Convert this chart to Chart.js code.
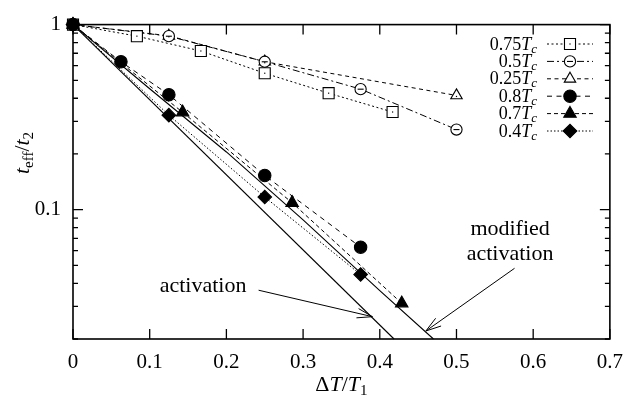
<!DOCTYPE html>
<html>
<head>
<meta charset="utf-8">
<script src="https://cdn.jsdelivr.net/npm/chart.js@4.4.1/dist/chart.umd.min.js"></script>
<style>
  html, body { margin: 0; padding: 0; background: #fff; }
  #wrap { width: 634px; height: 399px; }
</style>
</head>
<body>
<div id="wrap"><canvas id="chart" width="634" height="399"></canvas></div>
<script>
// values (x = dT/T1, y = t_eff/t2)
const x075 = [0, 0.0833, 0.1667, 0.25, 0.3333, 0.4167];
const y075 = [1, 0.866, 0.72, 0.546, 0.426, 0.337];
const x05 = [0, 0.125, 0.25, 0.375, 0.5];
const y05 = [1, 0.866, 0.63, 0.448, 0.271];
const x025 = [0, 0.125, 0.25, 0.5];
const y025 = [1, 0.87, 0.63, 0.414];
const x08 = [0, 0.0625, 0.125, 0.25, 0.375];
const y08 = [1, 0.63, 0.418, 0.153, 0.0627];
const x07 = [0, 0.1429, 0.2857, 0.4286];
const y07 = [1, 0.336, 0.109, 0.0312];
const x04 = [0, 0.125, 0.25, 0.375];
const y04 = [1, 0.324, 0.117, 0.0446];
// the two theory curves
const xAct = [0, 0.4186];
const yAct = [1, 0.02];
const xMod = [0, 0.1, 0.2, 0.3, 0.4, 0.47];
const yMod = [1, 0.45, 0.205, 0.088, 0.0365, 0.02];

const seriesLabels = ["0.75", "0.5", "0.25", "0.8", "0.7", "0.4"];
const xTicks = [0, 0.1, 0.2, 0.3, 0.4, 0.5, 0.6, 0.7];
const yMajor = [1, 0.1];
const yMinor = [0.02, 0.03, 0.04, 0.05, 0.06, 0.07, 0.08, 0.09, 0.2, 0.3, 0.4, 0.5, 0.6, 0.7, 0.8, 0.9];

// annotations, in data units
const notes = [
  { text: "activation", x: 0.1696, y: 0.0361 },
  { text: "modified", x: 0.5699, y: 0.0725 },
  { text: "activation", x: 0.5699, y: 0.0536 }
];
const arrows = [
  { from: [0.242, 0.0367], to: [0.3904, 0.0264] },
  { from: [0.5757, 0.0482], to: [0.4601, 0.0221] }
];

const FONT = '"Liberation Serif", "Times New Roman", serif';

// marker look per series: [pointStyle, radius, filled]
const marks = [
  ["rect", 7.8, false],
  ["circle", 5.6, false],
  ["triangle", 6.6, false],
  ["circle", 6.2, true],
  ["triangle", 7.2, true],
  ["rectRot", 6.8, true]
];
const dashes = [[2, 2.5], [7, 3, 2, 3], [4, 3.5], [5, 4.5], [4, 3], [1.5, 2]];

function zip(xs, ys) { return xs.map((x, i) => ({ x: x, y: ys[i] })); }

function series(i, xs, ys) {
  const m = marks[i];
  return {
    label: seriesLabels[i], data: zip(xs, ys),
    borderColor: "#000", borderWidth: 1, borderDash: dashes[i],
    pointStyle: m[0], pointRadius: m[1], pointBorderWidth: 1.1,
    pointBorderColor: "#000", pointBackgroundColor: m[2] ? "#000" : "#fff",
    fill: false, tension: 0, clip: false, order: m[2] ? 1 : 2
  };
}

const datasets = [
  series(0, x075, y075),
  series(1, x05, y05),
  series(2, x025, y025),
  series(3, x08, y08),
  series(4, x07, y07),
  series(5, x04, y04),
  { label: "activation", data: zip(xAct, yAct), borderColor: "#000", borderWidth: 1.1, pointRadius: 0, tension: 0, clip: false, order: 3 },
  { label: "modified", data: zip(xMod, yMod), borderColor: "#000", borderWidth: 1.1, pointRadius: 0, tension: 0, clip: false, order: 3 }
];

function drawParts(ctx, parts, x, y, align) {
  let w = 0;
  parts.forEach(p => { ctx.font = p.f; w += ctx.measureText(p.t).width; });
  let cx = align === "right" ? x - w : align === "center" ? x - w / 2 : x;
  ctx.textBaseline = "alphabetic";
  ctx.textAlign = "left";
  parts.forEach(p => {
    ctx.font = p.f;
    ctx.fillText(p.t, cx, y + (p.dy || 0));
    cx += ctx.measureText(p.t).width;
  });
}

function drawMark(ctx, i, x, y) {
  const m = marks[i];
  Chart.helpers.drawPoint(ctx, {
    pointStyle: m[0], radius: m[1], rotation: 0, borderWidth: 1.1
  }, x, y);
  ctx.fillStyle = m[2] ? "#000" : "#fff";
}

const decor = {
  id: "decor",
  afterDatasetsDraw(chart) {
    const ctx = chart.ctx;
    const xs = chart.scales.x, ys = chart.scales.y;
    const a = chart.chartArea;
    ctx.save();
    ctx.strokeStyle = "#000"; ctx.fillStyle = "#000";
    ctx.setLineDash([]);

    // small inner marks: bar in the open circles, dot in squares and triangles
    [0, 1, 2].forEach(i => {
      chart.getDatasetMeta(i).data.forEach(pt => {
        if (i === 1) ctx.fillRect(pt.x - 3, pt.y - 0.5, 6, 1.1);
        else ctx.fillRect(pt.x - 0.6, pt.y - 0.6 + (i === 2 ? 1 : 0), 1.2, 1.2);
      });
    });

    // frame
    ctx.lineWidth = 1.6;
    ctx.strokeRect(a.left, a.top, a.right - a.left, a.bottom - a.top);
    // ticks, inward on all sides
    ctx.lineWidth = 1.3;
    ctx.beginPath();
    xTicks.forEach(v => {
      const px = xs.getPixelForValue(v);
      ctx.moveTo(px, a.bottom); ctx.lineTo(px, a.bottom - 10);
      ctx.moveTo(px, a.top); ctx.lineTo(px, a.top + 10);
    });
    yMajor.forEach(v => {
      const py = ys.getPixelForValue(v);
      ctx.moveTo(a.left, py); ctx.lineTo(a.left + 10, py);
      ctx.moveTo(a.right, py); ctx.lineTo(a.right - 10, py);
    });
    yMinor.forEach(v => {
      const py = ys.getPixelForValue(v);
      ctx.moveTo(a.left, py); ctx.lineTo(a.left + 5, py);
      ctx.moveTo(a.right, py); ctx.lineTo(a.right - 5, py);
    });
    ctx.stroke();

    // legend: label, line sample, marker
    const fN = "18px " + FONT, fI = "italic 18px " + FONT, fS = "italic 13px " + FONT;
    datasets.slice(0, 6).forEach((d, i) => {
      const y = 44 + i * 17.4;
      ctx.fillStyle = "#000";
      drawParts(ctx, [{ t: d.label, f: fN }, { t: "T", f: fI }, { t: "c", f: fS, dy: 3 }], 537, y + 5.5, "right");
      ctx.lineWidth = 1;
      ctx.setLineDash(d.borderDash);
      ctx.beginPath(); ctx.moveTo(547, y); ctx.lineTo(593, y); ctx.stroke();
      ctx.setLineDash([]);
      ctx.lineWidth = 1.1;
      ctx.fillStyle = marks[i][2] ? "#000" : "#fff";
      Chart.helpers.drawPoint(ctx, { pointStyle: marks[i][0], radius: marks[i][1], rotation: 0, borderWidth: 1.1 }, 570, y);
      ctx.fillStyle = "#000";
      if (i === 1) ctx.fillRect(567, y - 0.5, 6, 1.1);
      else if (i === 0) ctx.fillRect(569.4, y - 0.6, 1.2, 1.2);
    });

    // annotations
    ctx.fillStyle = "#000";
    ctx.font = "22px " + FONT;
    ctx.textAlign = "center"; ctx.textBaseline = "alphabetic";
    notes.forEach(n => ctx.fillText(n.text, xs.getPixelForValue(n.x), ys.getPixelForValue(n.y)));
    ctx.lineWidth = 1;
    arrows.forEach(ar => {
      const x0 = xs.getPixelForValue(ar.from[0]), y0 = ys.getPixelForValue(ar.from[1]);
      const x1 = xs.getPixelForValue(ar.to[0]), y1 = ys.getPixelForValue(ar.to[1]);
      const ang = Math.atan2(y1 - y0, x1 - x0);
      ctx.beginPath();
      ctx.moveTo(x0, y0); ctx.lineTo(x1, y1);
      [0.3, -0.3].forEach(d => {
        ctx.moveTo(x1, y1);
        ctx.lineTo(x1 - 16 * Math.cos(ang + d), y1 - 16 * Math.sin(ang + d));
      });
      ctx.stroke();
    });

    // axis titles
    const tN = "22px " + FONT, tI = "italic 22px " + FONT, tS = "15px " + FONT;
    drawParts(ctx, [{ t: "\u0394", f: tN }, { t: "T", f: tI }, { t: "/", f: tN }, { t: "T", f: tI }, { t: "1", f: tS, dy: 4 }],
      (a.left + a.right) / 2, 391, "center");
    ctx.translate(29, 153);
    ctx.rotate(-Math.PI / 2);
    drawParts(ctx, [{ t: "t", f: tI }, { t: "eff", f: tS, dy: 4 }, { t: "/", f: tN }, { t: "t", f: tI }, { t: "2", f: tS, dy: 4 }],
      0, 0, "center");
    ctx.restore();
  }
};

const tickFont = { family: FONT, size: 21 };

new Chart(document.getElementById("chart"), {
  type: "line",
  data: { datasets: datasets },
  options: {
    responsive: false,
    animation: false,
    layout: { padding: { top: 23, right: 22, left: 0, bottom: 0 } },
    plugins: { legend: { display: false }, tooltip: { enabled: false } },
    scales: {
      x: {
        type: "linear", min: 0, max: 0.7,
        grid: { display: false, drawTicks: false }, border: { display: false },
        ticks: { stepSize: 0.1, color: "#000", font: tickFont, padding: 11, maxRotation: 0,
          callback: v => String(Number(v.toFixed(1))) },
        afterFit: s => { s.height = 60; }
      },
      y: {
        type: "logarithmic", min: 0.02, max: 1,
        grid: { display: false, drawTicks: false }, border: { display: false },
        ticks: { color: "#000", font: tickFont, padding: 12, autoSkip: false,
          callback: v => {
            const m = yMajor.find(t => Math.abs(Math.log10(v) - Math.log10(t)) < 1e-6);
            return m === undefined ? "" : String(m);
          } },
        afterFit: s => { s.width = 73; }
      }
    }
  },
  plugins: [decor]
});
</script>
</body>
</html>
